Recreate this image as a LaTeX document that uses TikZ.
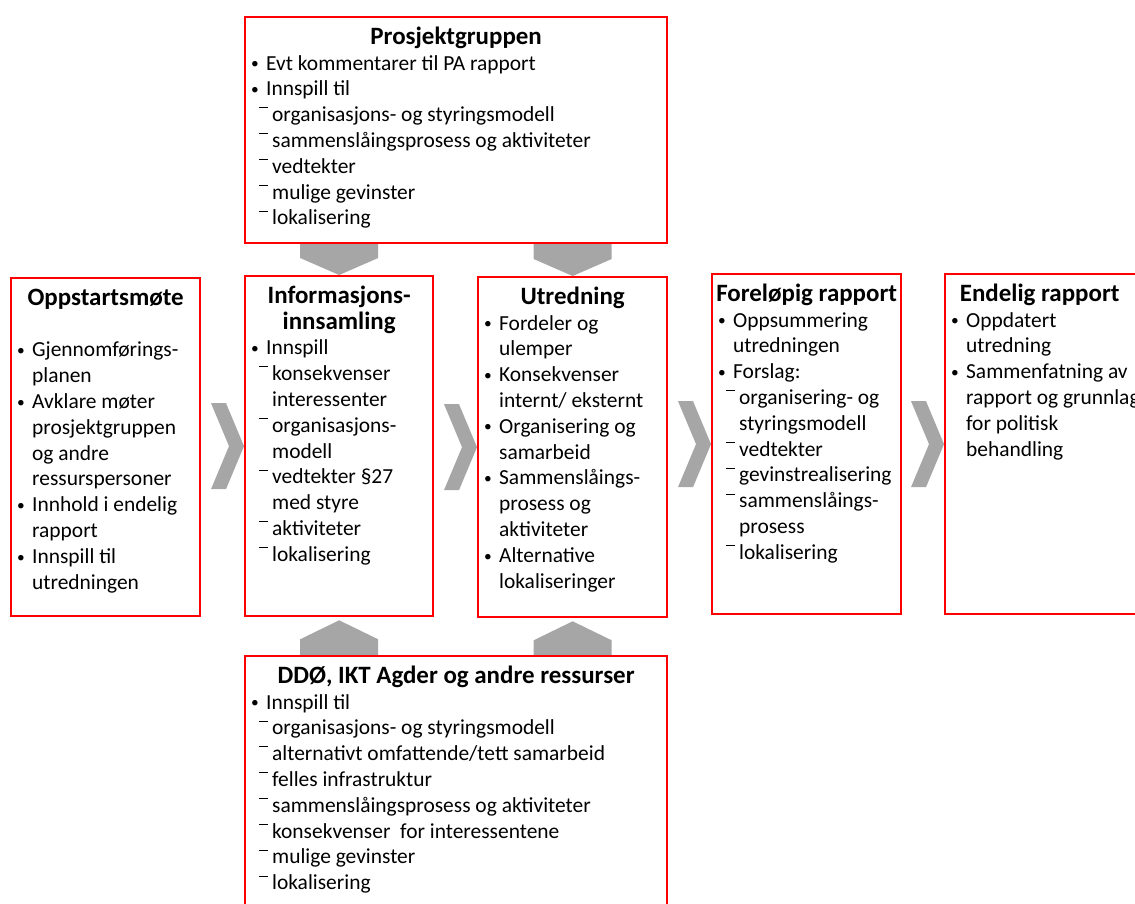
\documentclass[tikz,border=0pt]{standalone}
\usepackage{fontspec}
\setmainfont{Carlito}
\usepackage{xcolor}
\usepackage{tikz}
\usetikzlibrary{positioning, calc, backgrounds}

\definecolor{framered}{RGB}{255,0,0}
\definecolor{chevrongray}{RGB}{166,166,166}

\newlength{\px}
\setlength{\px}{0.02cm}

\newcommand{\boxfont}{\fontsize{12.2}{14.7}\selectfont}
\newcommand{\boxbody}[3]{\parbox[t][#2\px][t]{#1\px}{\boxfont\raggedright\vspace*{5.1pt}#3}}
\newcommand{\boxhead}[1]{{\centering\fontsize{14.2}{14.7}\selectfont\bfseries\strut #1\par}}
\newcommand{\bitem}[1]{\par\hangindent=21\px\hangafter=1\noindent\hspace*{6\px}\makebox[15\px][l]{\raisebox{0.8pt}{\scalebox{0.72}{\textbullet}}}#1}
\newcommand{\sitem}[1]{\par\hangindent=27\px\hangafter=1\noindent\hspace*{14\px}\makebox[13\px][l]{\rule[7.5pt]{9\px}{0.6pt}}#1}

\tikzstyle{stage} = [draw=framered, line width=1.3pt, fill=white, inner sep=0pt, anchor=north west]
\tikzstyle{chevron} = [fill=chevrongray]

\begin{document}
\begin{tikzpicture}[x=0.02cm, y=-0.02cm]

\useasboundingbox (0, 0) rectangle (1135, 903);

% Process stages
\node [stage] (opp) at (10, 277) {\boxbody{189}{338}{%
  \boxhead{Oppstartsmøte}
  \vspace{\baselineskip}
  \bitem{Gjennomførings-\newline planen}
  \bitem{Avklare møter\newline prosjektgruppen\newline og andre\newline ressurspersoner}
  \bitem{Innhold i endelig\newline rapport}
  \bitem{Innspill til\newline utredningen}}};

\node [stage] (info) at (244, 275) {\boxbody{188}{340}{%
  \boxhead{Informasjons-\\innsamling}
  \bitem{Innspill}
  \sitem{konsekvenser\newline interessenter}
  \sitem{organisasjons-\newline modell}
  \sitem{vedtekter §27\newline med styre}
  \sitem{aktiviteter}
  \sitem{lokalisering}}};

\node [stage] (utr) at (477, 276) {\boxbody{189}{340}{%
  \boxhead{Utredning}
  \bitem{Fordeler og\newline ulemper}
  \bitem{Konsekvenser\newline internt/ eksternt}
  \bitem{Organisering og\newline samarbeid}
  \bitem{Sammenslåings-\newline prosess og\newline aktiviteter}
  \bitem{Alternative\newline lokaliseringer}}};

\node [stage] (forl) at (711, 273) {\boxbody{189}{340}{%
  \boxhead{Foreløpig rapport}
  \bitem{Oppsummering\newline utredningen}
  \bitem{Forslag:}
  \sitem{organisering- og\newline styringsmodell}
  \sitem{vedtekter}
  \sitem{gevinstrealisering}
  \sitem{sammenslåings-\newline prosess}
  \sitem{lokalisering}}};

\node [stage] (endl) at (944, 273) {\boxbody{230}{340}{%
  \boxhead{\hspace*{-41\px}Endelig rapport}
  \bitem{Oppdatert\newline utredning}
  \bitem{Sammenfatning av\newline rapport og grunnlag\newline for politisk\newline behandling}}};

% Input groups
\node [stage] (prosj) at (244, 16) {\boxbody{422}{226}{%
  \boxhead{Prosjektgruppen}
  \bitem{Evt kommentarer til PA rapport}
  \bitem{Innspill til}
  \sitem{organisasjons- og styringsmodell}
  \sitem{sammenslåingsprosess og aktiviteter}
  \sitem{vedtekter}
  \sitem{mulige gevinster}
  \sitem{lokalisering}}};

\node [stage] (ddo) at (244, 655) {\boxbody{422}{270}{%
  \boxhead{DDØ, IKT Agder og andre ressurser}
  \bitem{Innspill til}
  \sitem{organisasjons- og styringsmodell}
  \sitem{alternativt omfattende/tett samarbeid}
  \sitem{felles infrastruktur}
  \sitem{sammenslåingsprosess og aktiviteter}
  \sitem{konsekvenser\ \ for interessentene}
  \sitem{mulige gevinster}
  \sitem{lokalisering}}};

% Chevrons
\begin{scope}[on background layer]
\foreach \nxt in {info, utr, forl, endl}
  \fill [chevron, shift={(\nxt.west)}] (-33, -43) -- (-18, -43) -- (0, 0) -- (-18, 43) -- (-33, 43) -- (-15, 0) -- cycle;
\foreach \nxt in {info, utr}
  \fill [chevron, shift={(\nxt.north)}] (-39, -55) -- (0, -38) -- (39, -55) -- (39, -17) -- (0, 0) -- (-39, -17) -- cycle;
\foreach \nxt in {info, utr}
  \fill [chevron, shift={(\nxt.south)}] (-39, 62) -- (0, 44) -- (39, 62) -- (39, 22) -- (0, 3) -- (-39, 22) -- cycle;
\end{scope}

\end{tikzpicture}
\end{document}
